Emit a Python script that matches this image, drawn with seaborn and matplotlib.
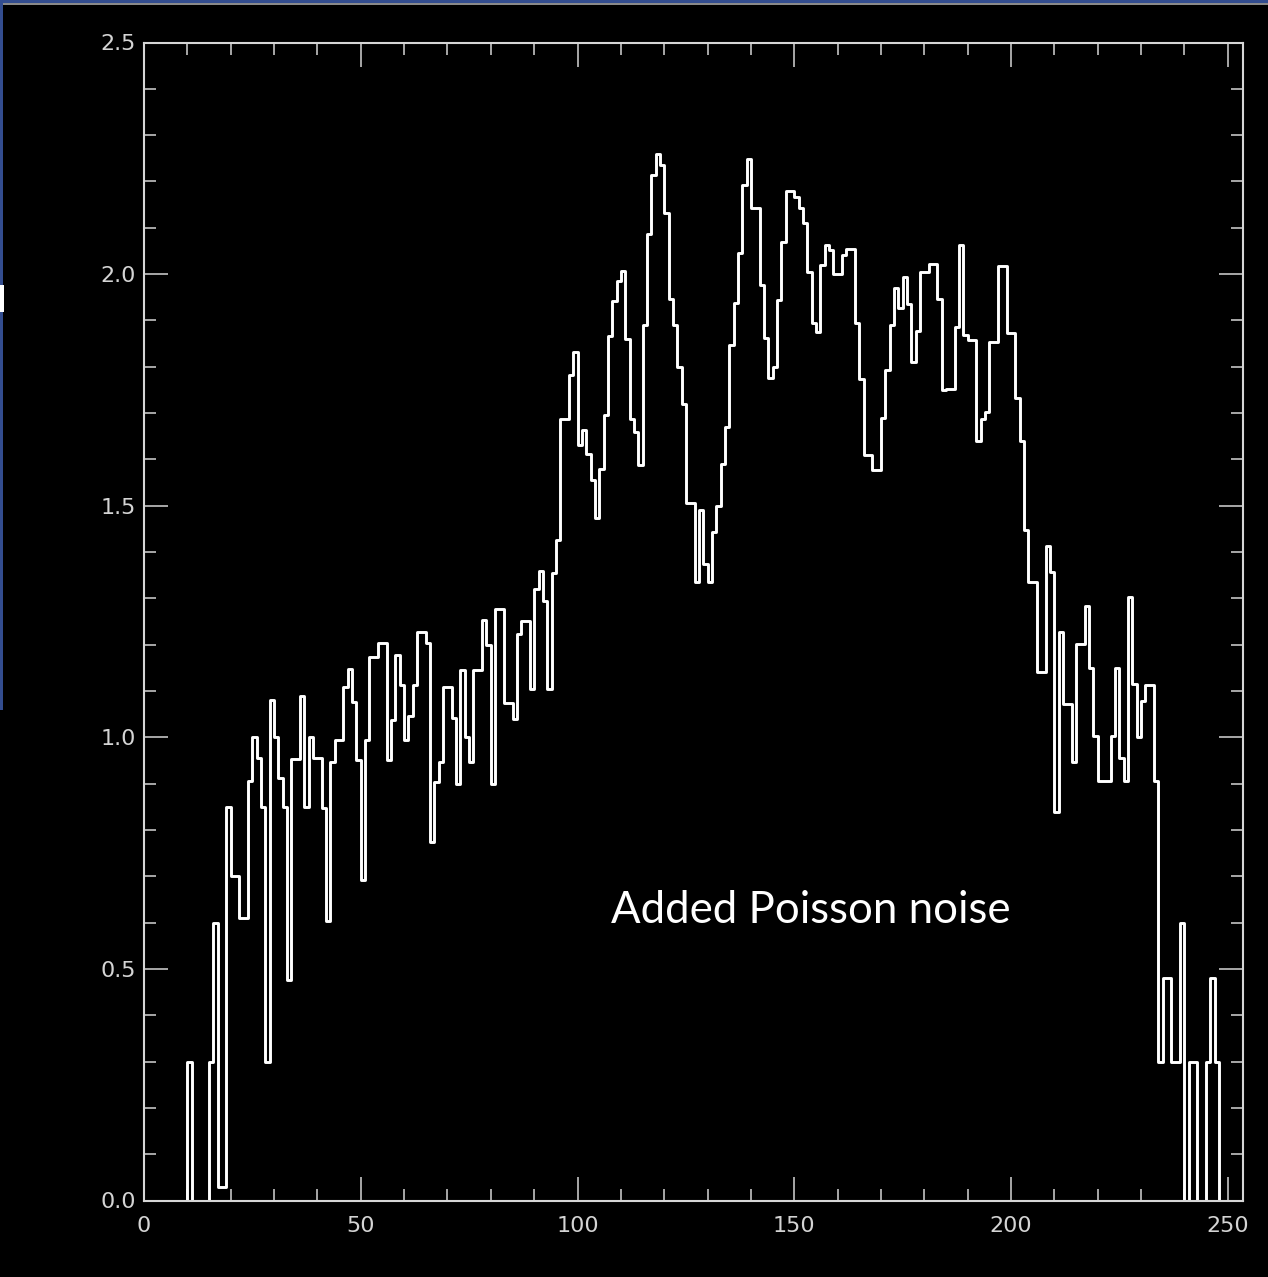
import numpy as np
import matplotlib
matplotlib.use("Agg")
import matplotlib.pyplot as plt
from matplotlib.patches import Rectangle
from matplotlib.ticker import MultipleLocator, FormatStrFormatter
import pandas as pd
import seaborn as sns

# Noisy intensity profile: one value per unit-wide bin, bin i covers [i, i+1)
bin_left = np.arange(254)
intensity = [
    0, 0, 0, 0, 0, 0, 0, 0, 0, 0,                                   # 0-9
    0.30, 0, 0, 0, 0, 0.30, 0.60, 0.03, 0.03, 0.85,                 # 10-19
    0.70, 0.70, 0.61, 0.61, 0.905, 1.00, 0.955, 0.85, 0.30, 1.08,   # 20-29
    1.00, 0.913, 0.85, 0.476, 0.953, 0.953, 1.09, 0.85, 1.00, 0.956,  # 30-39
    0.956, 0.847, 0.603, 0.947, 0.995, 0.995, 1.109, 1.147, 1.076, 0.951,  # 40-49
    0.692, 0.994, 1.174, 1.174, 1.203, 1.203, 0.951, 1.037, 1.178, 1.113,  # 50-59
    0.994, 1.045, 1.113, 1.228, 1.228, 1.203, 0.775, 0.904, 0.947, 1.109,  # 60-69
    1.109, 1.041, 0.90, 1.145, 1.00, 0.947, 1.145, 1.145, 1.253, 1.20,     # 70-79
    0.90, 1.278, 1.278, 1.075, 1.075, 1.04, 1.224, 1.252, 1.252, 1.104,    # 80-89
    1.32, 1.36, 1.295, 1.104, 1.355, 1.427, 1.687, 1.687, 1.783, 1.831,    # 90-99
    1.631, 1.663, 1.611, 1.555, 1.473, 1.579, 1.695, 1.867, 1.943, 1.985,  # 100-109
    2.007, 1.859, 1.687, 1.659, 1.587, 1.891, 2.087, 2.215, 2.259, 2.235,  # 110-119
    2.131, 1.947, 1.891, 1.799, 1.719, 1.505, 1.505, 1.336, 1.49, 1.375,   # 120-129
    1.336, 1.444, 1.50, 1.59, 1.67, 1.847, 1.937, 2.046, 2.192, 2.248,     # 130-139
    2.142, 2.142, 1.976, 1.861, 1.775, 1.80, 1.944, 2.07, 2.18, 2.18,      # 140-149
    2.167, 2.142, 2.11, 2.005, 1.894, 1.876, 2.02, 2.062, 2.052, 2.00,     # 150-159
    2.00, 2.041, 2.055, 2.055, 1.895, 1.773, 1.609, 1.609, 1.577, 1.577,   # 160-169
    1.689, 1.793, 1.89, 1.969, 1.927, 1.993, 1.935, 1.811, 1.877, 2.005,   # 170-179
    2.005, 2.022, 2.022, 1.947, 1.749, 1.753, 1.753, 1.885, 2.063, 1.869,  # 180-189
    1.857, 1.857, 1.639, 1.687, 1.703, 1.854, 1.854, 2.018, 2.018, 1.873,  # 190-199
    1.873, 1.732, 1.639, 1.447, 1.335, 1.335, 1.141, 1.141, 1.414, 1.356,  # 200-209
    0.839, 1.228, 1.071, 1.071, 0.947, 1.201, 1.201, 1.283, 1.149, 1.002,  # 210-219
    0.905, 0.905, 0.905, 1.002, 1.149, 0.955, 0.905, 1.302, 1.116, 1.00,   # 220-229
    1.078, 1.113, 1.113, 0.905, 0.30, 0.48, 0.48, 0.30, 0.30, 0.60,        # 230-239
    0, 0.30, 0.30, 0, 0, 0.30, 0.48, 0.30, 0, 0,                           # 240-249
    0, 0, 0, 0,                                                            # 250-253
]

x_limits = (0, 253.5)
y_limits = (0, 2.5)
x_major_step, x_minor_step = 50, 10
y_major_step, y_minor_step = 0.5, 0.1
note = "Added Poisson noise"

axis_color = "#d6d6d6"
label_color = "#d4d4d4"
frame_blue = "#334d8f"

sns.set_style("ticks", {"axes.facecolor": "black", "figure.facecolor": "black"})
plt.rcParams["font.family"] = ["DejaVu Sans"]

W, H = 1268, 1277
fig = plt.figure(figsize=(W / 100, H / 100), dpi=100, facecolor="black")
ax = fig.add_axes([144 / W, 1 - 1200.5 / H, (1243 - 144) / W, (1200.5 - 42.5) / H])
ax.set_facecolor("black")

profile = pd.DataFrame({"position": bin_left + 0.5, "intensity": intensity})
sns.histplot(
    data=profile, x="position", weights="intensity",
    binwidth=1, binrange=(0, len(intensity)),
    element="step", fill=False, color="white", linewidth=2.1, ax=ax,
)

ax.set_xlim(*x_limits)
ax.set_ylim(*y_limits)
ax.set_xlabel("")
ax.set_ylabel("")

ax.xaxis.set_major_locator(MultipleLocator(x_major_step))
ax.xaxis.set_minor_locator(MultipleLocator(x_minor_step))
ax.yaxis.set_major_locator(MultipleLocator(y_major_step))
ax.yaxis.set_minor_locator(MultipleLocator(y_minor_step))
ax.yaxis.set_major_formatter(FormatStrFormatter("%.1f"))

ax.tick_params(which="both", direction="in", top=True, right=True,
               color=axis_color, labelcolor=label_color, labelsize=16)
ax.tick_params(which="major", length=17, width=1.1)
ax.tick_params(which="minor", length=8.6, width=1.1)
ax.tick_params(axis="x", pad=11)
ax.tick_params(axis="y", pad=6)

for side in ("left", "right", "top", "bottom"):
    ax.spines[side].set_visible(True)
    ax.spines[side].set_color(axis_color)
    ax.spines[side].set_linewidth(1.5)

ax.text(107.8, 0.599, note, color="white", fontsize=31.5,
        family=["Lato", "DejaVu Sans"], ha="left", va="baseline")

# slide frame edges
fig.patches.append(Rectangle((0, 1 - 3 / H), 1, 3 / H, transform=fig.transFigure,
                             facecolor=frame_blue, edgecolor="none"))
fig.patches.append(Rectangle((0, 1 - 4.5 / H), 1, 1.5 / H, transform=fig.transFigure,
                             facecolor="#8a8a8a", edgecolor="none"))
fig.patches.append(Rectangle((0, 1 - 710 / H), 3 / W, 710 / H, transform=fig.transFigure,
                             facecolor=frame_blue, edgecolor="none"))
fig.patches.append(Rectangle((0, 1 - 312 / H), 4 / W, 27 / H, transform=fig.transFigure,
                             facecolor="white", edgecolor="none"))

fig.savefig("out.png", dpi=100, facecolor="black")
